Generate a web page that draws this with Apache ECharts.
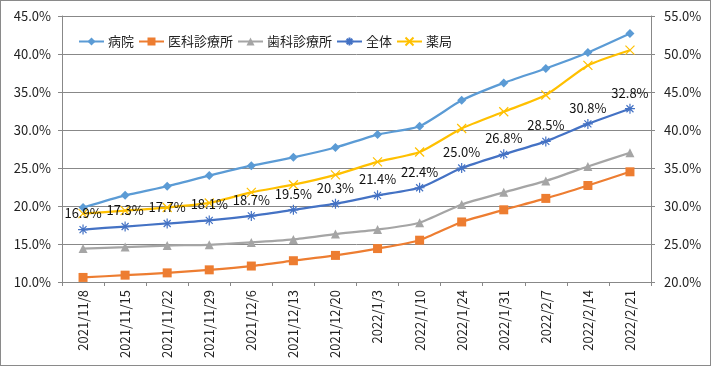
<!DOCTYPE html>
<html>
<head>
<meta charset="utf-8">
<script src="https://cdn.jsdelivr.net/npm/echarts@6/dist/echarts.min.js"></script>
<style>
html,body{margin:0;padding:0;background:#fff;}
#c{width:711px;height:366px;box-sizing:border-box;border:1px solid #8a8a8a;}
</style>
</head>
<body>
<div id="c"></div>
<script>
const categories = ['2021/11/8','2021/11/15','2021/11/22','2021/11/29','2021/12/6','2021/12/13','2021/12/20','2022/1/3','2022/1/10','2022/1/24','2022/1/31','2022/2/7','2022/2/14','2022/2/21'];
const seriesNames = ['病院','医科診療所','歯科診療所','全体','薬局'];
const hospital = [19.8, 21.4, 22.6, 24.0, 25.3, 26.4, 27.7, 29.4, 30.5, 33.9, 36.2, 38.1, 40.2, 42.7];
const clinic   = [10.6, 10.9, 11.2, 11.6, 12.1, 12.8, 13.5, 14.4, 15.5, 17.9, 19.5, 21.0, 22.7, 24.5];
const dental   = [14.4, 14.6, 14.8, 14.9, 15.2, 15.6, 16.3, 16.9, 17.8, 20.2, 21.8, 23.3, 25.2, 27.0];
const overall  = [16.9, 17.3, 17.7, 18.1, 18.7, 19.5, 20.3, 21.4, 22.4, 25.0, 26.8, 28.5, 30.8, 32.8];
const pharmacy = [19.0, 19.4, 19.8, 20.4, 21.8, 22.8, 24.1, 25.8, 27.1, 30.2, 32.4, 34.6, 38.5, 40.5];

const FONT = '"Noto Sans CJK JP", "Noto Sans", sans-serif';
const ASTER = 'path://M0,5L10,5M5,0L5,10M1.5,1.5L8.5,8.5M8.5,1.5L1.5,8.5';
const CROSS = 'path://M0,0L10,10M10,0L0,10';

function mk(name, data, color, symbol, size, extra) {
  return Object.assign({
    name: name, type: 'line', data: data, yAxisIndex: 0,
    smooth: 0.2, symbol: symbol, symbolSize: size,
    lineStyle: {color: color, width: 2.25},
    itemStyle: {color: color},
    emphasis: {disabled: true}
  }, extra || {});
}

const chart = echarts.init(document.getElementById('c'), null, {renderer: 'canvas'});
chart.setOption({
  animation: false,
  textStyle: {fontFamily: FONT},
  grid: {left: 61, right: 59, top: 15, bottom: 83, containLabel: false},
  legend: {
    left: 73, top: 31, padding: [3, 4], backgroundColor: '#fff',
    itemWidth: 25, itemHeight: 10, itemGap: 4,
    textStyle: {fontSize: 13, color: '#222', fontFamily: FONT, padding: [0, 0, 0, -1]},
    data: seriesNames
  },
  xAxis: {
    type: 'category', data: categories, boundaryGap: true,
    axisLine: {show: true, lineStyle: {color: '#888', width: 1}},
    axisTick: {show: true, length: 4, lineStyle: {color: '#888'}},
    axisLabel: {rotate: 90, margin: 8, fontSize: 13, color: '#222', interval: 0, fontFamily: FONT}
  },
  yAxis: [
    {
      type: 'value', min: 10, max: 45, interval: 5, position: 'left',
      axisLine: {show: true, lineStyle: {color: '#888'}},
      axisTick: {show: true, length: 4, lineStyle: {color: '#888'}},
      splitLine: {show: true, lineStyle: {color: '#888', width: 1}},
      axisLabel: {margin: 11, fontSize: 13, color: '#222', fontFamily: FONT, formatter: v => v.toFixed(1) + '%'}
    },
    {
      type: 'value', min: 20, max: 55, interval: 5, position: 'right',
      axisLine: {show: true, lineStyle: {color: '#888'}},
      axisTick: {show: true, length: 4, lineStyle: {color: '#888'}},
      splitLine: {show: false},
      axisLabel: {margin: 13, fontSize: 13, color: '#222', fontFamily: FONT, formatter: v => v.toFixed(1) + '%'}
    }
  ],
  series: [
    mk(seriesNames[0], hospital, '#5B9BD5', 'diamond', 9),
    mk(seriesNames[1], clinic, '#ED7D31', 'rect', 9),
    mk(seriesNames[2], dental, '#A5A5A5', 'triangle', 9),
    mk(seriesNames[3], overall, '#4472C4', ASTER, 10, {
      itemStyle: {color: '#4472C4', borderColor: '#4472C4', borderWidth: 1.2},
      label: {show: true, position: 'top', distance: 4, fontSize: 13, color: '#111', fontFamily: FONT,
        formatter: p => p.value.toFixed(1) + '%'}
    }),
    mk(seriesNames[4], pharmacy, '#FFC000', CROSS, 9, {
      itemStyle: {color: '#FFC000', borderColor: '#FFC000', borderWidth: 1.2}
    })
  ]
});
</script>
</body>
</html>
